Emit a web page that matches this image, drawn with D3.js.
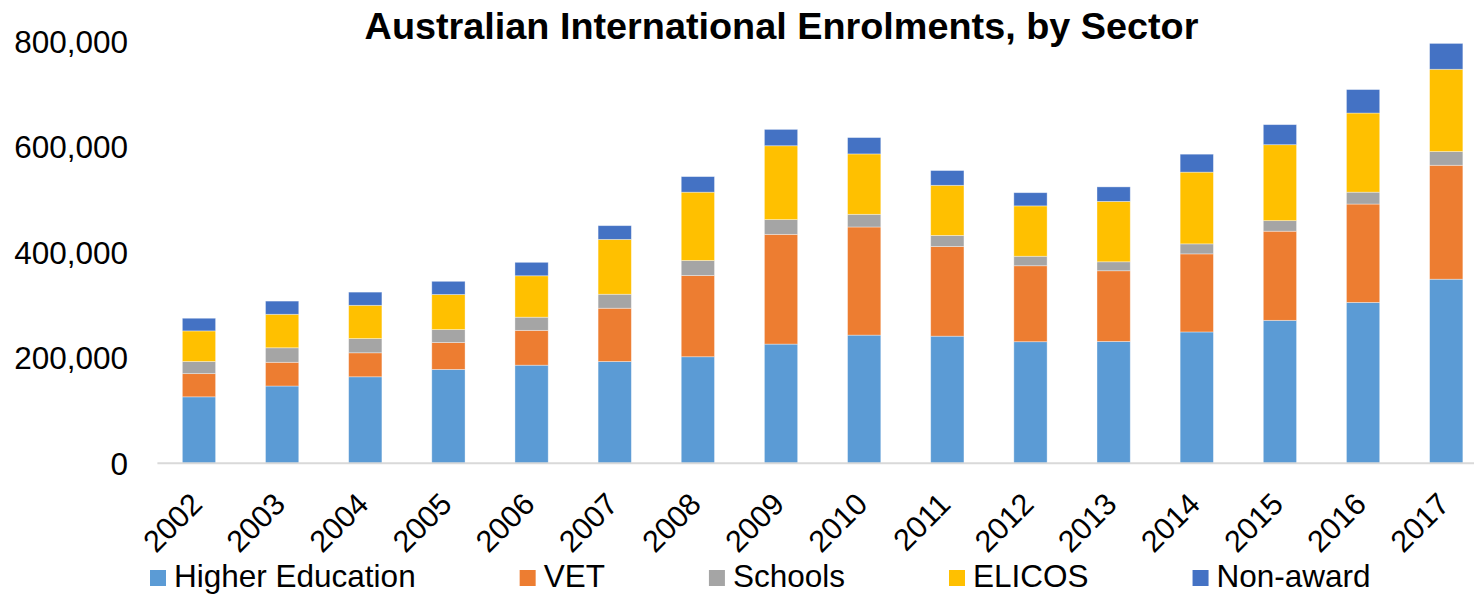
<!DOCTYPE html>
<html>
<head>
<meta charset="utf-8">
<script src="https://cdn.jsdelivr.net/npm/d3@7"></script>
<style>
  body { margin: 0; background: #fff; }
  text { font-family: 'Liberation Sans', Arial, sans-serif; fill: #000; }
</style>
</head>
<body>
<div id="chart"></div>
<script>
const years = ['2002', '2003', '2004', '2005', '2006', '2007', '2008', '2009',
  '2010', '2011', '2012', '2013', '2014', '2015', '2016', '2017'];
const sectors = ['Higher Education', 'VET', 'Schools', 'ELICOS', 'Non-award'];
const higherEd = [126000, 146500, 164000, 178000, 186000, 193000, 202000, 226000,
  243000, 241000, 230500, 231000, 249000, 271000, 305000, 349000];
const vet = [44000, 45000, 45500, 51000, 66000, 101000, 154000, 208000,
  205000, 170000, 144000, 134000, 148000, 169000, 186500, 216000];
const schools = [23000, 27500, 27000, 24500, 25000, 26500, 28500, 28000,
  24000, 21000, 18000, 17000, 19000, 20000, 22500, 26000];
const elicos = [58000, 63500, 63000, 66500, 78500, 104000, 129500, 140000,
  114500, 95000, 95500, 114500, 136000, 144000, 150000, 156000];
const nonAward = [24000, 25000, 25000, 25000, 25500, 26000, 29500, 31000,
  31000, 28000, 25000, 27500, 34000, 38000, 44500, 49000];
const yTicks = [0, 200000, 400000, 600000, 800000];

const colors = ['#5B9BD5', '#ED7D31', '#A5A5A5', '#FFC000', '#4472C4'];

const width = 1474;
const height = 594;

const svg = d3.select('#chart')
  .append('svg')
  .attr('width', width)
  .attr('height', height);

// one row per year, one column per sector, then stacked
const rows = years.map((year, i) => ({
  year: year,
  'Higher Education': higherEd[i],
  'VET': vet[i],
  'Schools': schools[i],
  'ELICOS': elicos[i],
  'Non-award': nonAward[i]
}));
const series = d3.stack().keys(sectors)(rows);

const x = d3.scaleBand()
  .domain(years)
  .range([157.4, 1487.8])
  .paddingInner(0.6)
  .paddingOuter(0.3);

const y = d3.scaleLinear()
  .domain([0, 800000])
  .range([463.3, 41.3]);

const color = d3.scaleOrdinal()
  .domain(sectors)
  .range(colors);

// bars
svg.append('g')
  .selectAll('g')
  .data(series)
  .join('g')
  .attr('fill', d => color(d.key))
  .selectAll('rect')
  .data(d => d)
  .join('rect')
  .attr('x', d => x(d.data.year))
  .attr('y', d => y(d[1]))
  .attr('height', d => y(d[0]) - y(d[1]))
  .attr('width', x.bandwidth())
  .attr('stroke', '#fff')
  .attr('stroke-opacity', 0.45)
  .attr('stroke-width', 0.8);

// baseline
svg.append('line')
  .attr('x1', 157.4)
  .attr('x2', width)
  .attr('y1', y(0))
  .attr('y2', y(0))
  .attr('stroke', '#d9d9d9')
  .attr('stroke-width', 2);

// y labels
const fmt = d3.format(',');
svg.append('g')
  .selectAll('text')
  .data(yTicks)
  .join('text')
  .attr('x', 128)
  .attr('y', d => y(d))
  .attr('dy', '0.36em')
  .attr('text-anchor', 'end')
  .style('font-size', '31.5px')
  .text(d => fmt(d));

// year labels, rotated
svg.append('g')
  .selectAll('text')
  .data(years)
  .join('text')
  .attr('text-anchor', 'end')
  .attr('transform', d => `translate(${x(d) + x.bandwidth() / 2 + 5},506) rotate(-45)`)
  .style('font-size', '30.5px')
  .text(d => d);

// title
svg.append('text')
  .attr('x', 781.5)
  .attr('y', 39)
  .attr('text-anchor', 'middle')
  .style('font-size', '37.8px')
  .style('font-weight', 'bold')
  .text('Australian International Enrolments, by Sector');

// legend
const legend = svg.append('g');
let lx = 150;
sectors.forEach(s => {
  legend.append('rect')
    .attr('x', lx)
    .attr('y', 570)
    .attr('width', 16)
    .attr('height', 16)
    .attr('fill', color(s));
  const t = legend.append('text')
    .attr('x', lx + 24)
    .attr('y', 587)
    .style('font-size', '31.5px')
    .text(s);
  lx += 24 + t.node().getComputedTextLength() + 104;
});
</script>
</body>
</html>
